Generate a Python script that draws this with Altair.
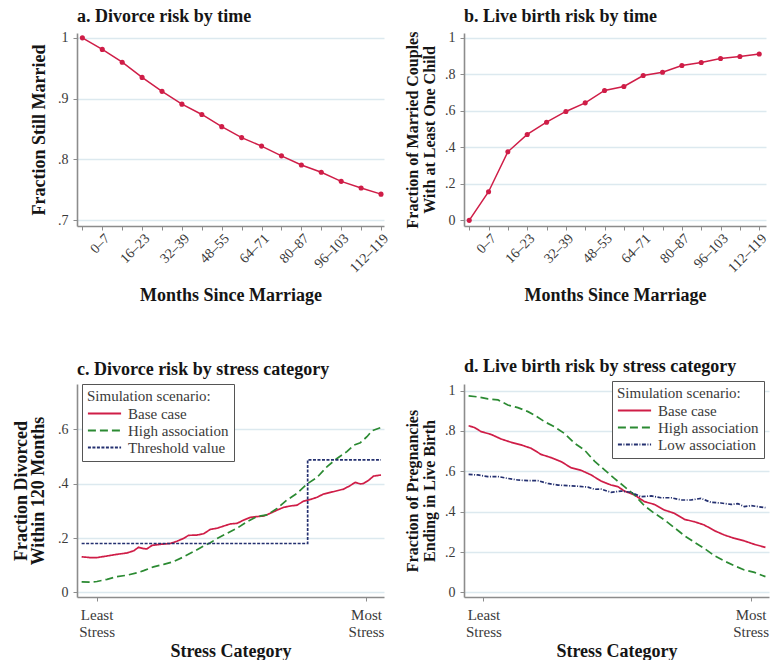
import altair as alt
import pandas as pd

FONT = "Liberation Serif"
RED = "#cf1d47"
GREEN = "#2b8a32"
NAVY = "#243070"
GRID = "#dce9ef"
AXIS_GRAY = "#8c8c8c"
TEXT = "#151515"
LABEL = "#3a3a3a"

# ---- Panels a and b: marriage start plus fifteen 8-month bins ----
period_index = list(range(16))
period_labels = ["0–7", "16–23", "32–39", "48–55", "64–71", "80–87", "96–103", "112–119"]
still_married = [1.000, 0.981, 0.960, 0.935, 0.912, 0.891, 0.874, 0.854,
                 0.836, 0.822, 0.806, 0.791, 0.779, 0.764, 0.753, 0.743]
with_child = [0.000, 0.157, 0.376, 0.471, 0.538, 0.597, 0.644, 0.712,
              0.734, 0.794, 0.812, 0.849, 0.865, 0.887, 0.898, 0.912]

# ---- Panel c: divorce within 120 months by stress percentile ----
c_base_x = [0, 2.9, 5.1, 8.5, 11.8, 15.1, 17.4, 19.0, 20.7, 21.8, 23.5, 26.3, 29.6, 31.8,
            34.1, 35.7, 38.5, 40.8, 43.0, 45.2, 47.4, 49.7, 51.9, 54.1, 56.3, 58.6, 60.8,
            63.0, 65.3, 67.5, 69.7, 71.9, 74.2, 76.4, 78.6, 80.8, 83.1, 85.3, 87.5, 89.7,
            91.4, 93.1, 94.2, 95.9, 97.5, 100]
c_base_y = [0.131, 0.128, 0.128, 0.134, 0.140, 0.145, 0.153, 0.166, 0.161, 0.160, 0.173,
            0.177, 0.180, 0.188, 0.199, 0.210, 0.211, 0.216, 0.232, 0.236, 0.244, 0.252,
            0.254, 0.266, 0.276, 0.279, 0.281, 0.291, 0.303, 0.313, 0.318, 0.321, 0.336,
            0.342, 0.350, 0.362, 0.368, 0.374, 0.380, 0.393, 0.405, 0.399, 0.401, 0.413,
            0.428, 0.432]
c_high_x = [0, 2.9, 5.1, 8.5, 11.8, 15.1, 18.5, 20.7, 24.0, 27.4, 30.7, 34.1, 37.4, 40.8,
            43.0, 45.2, 48.5, 51.9, 55.2, 58.6, 61.9, 65.3, 68.6, 71.9, 75.3, 78.6, 82.0,
            85.3, 88.6, 90.9, 93.1, 95.3, 97.0, 100]
c_high_y = [0.039, 0.038, 0.040, 0.048, 0.058, 0.063, 0.072, 0.080, 0.094, 0.103, 0.113,
            0.131, 0.150, 0.171, 0.183, 0.198, 0.217, 0.236, 0.260, 0.279, 0.285, 0.309,
            0.340, 0.364, 0.399, 0.423, 0.463, 0.493, 0.518, 0.542, 0.551, 0.573, 0.595,
            0.607]
c_threshold_x = [0, 75.5, 75.5, 100]
c_threshold_y = [0.180, 0.180, 0.488, 0.488]

# ---- Panel d: pregnancies ending in a live birth by stress percentile ----
d_base_x = [0, 2.0, 4.2, 7.6, 11.0, 14.3, 17.7, 21.1, 24.4, 27.8, 31.2, 34.5, 37.9, 41.3,
            44.6, 48.0, 50.3, 52.5, 55.9, 59.2, 62.6, 66.0, 69.3, 72.7, 76.1, 79.4, 82.8,
            86.2, 89.5, 92.9, 96.3, 100]
d_base_y = [0.826, 0.817, 0.797, 0.783, 0.760, 0.744, 0.731, 0.714, 0.684, 0.668, 0.648,
            0.618, 0.605, 0.582, 0.552, 0.532, 0.524, 0.502, 0.483, 0.450, 0.436, 0.408,
            0.392, 0.362, 0.350, 0.334, 0.306, 0.284, 0.268, 0.255, 0.238, 0.223]
d_high_x = [0, 3.1, 6.5, 9.9, 13.2, 16.6, 20.0, 22.2, 25.6, 28.9, 32.3, 35.7, 39.0, 42.4,
            45.8, 49.1, 52.5, 55.9, 59.2, 62.6, 66.0, 69.3, 72.7, 76.1, 79.4, 82.8, 86.2,
            89.5, 92.9, 96.3, 100]
d_high_y = [0.974, 0.969, 0.959, 0.954, 0.929, 0.916, 0.896, 0.879, 0.846, 0.821, 0.788,
            0.739, 0.706, 0.651, 0.607, 0.565, 0.524, 0.483, 0.430, 0.392, 0.359, 0.321,
            0.281, 0.248, 0.218, 0.182, 0.155, 0.132, 0.111, 0.099, 0.078]
d_low_x = [0, 3.1, 6.5, 9.9, 13.2, 16.6, 20.0, 23.3, 26.7, 30.1, 33.4, 36.8, 40.2, 42.4,
           44.6, 48.0, 51.4, 54.7, 58.1, 61.5, 64.8, 68.2, 71.6, 74.9, 78.3, 81.7, 85.0,
           88.4, 90.7, 92.9, 95.1, 100]
d_low_y = [0.585, 0.582, 0.574, 0.574, 0.565, 0.557, 0.554, 0.554, 0.540, 0.532, 0.529,
           0.526, 0.522, 0.511, 0.512, 0.496, 0.502, 0.496, 0.474, 0.478, 0.469, 0.469,
           0.458, 0.458, 0.466, 0.446, 0.443, 0.436, 0.440, 0.425, 0.430, 0.420]

stress_ticks = [5, 95]
stress_ends = [["Least", "Stress"], ["Most", "Stress"]]
c_series = ["Base case", "High association", "Threshold value"]
d_series = ["Base case", "High association", "Low association"]

TOP_W, TOP_H = 307, 193
B_W = 302
BOT_H = 213
C_W, D_W = 307, 305

period_expr = ("datum.value % 2 == 1 ? ["
               + ",".join(f"'{s}'" for s in period_labels)
               + "][(datum.value - 1) / 2] : ''")
frac_expr = ("datum.value == 0 ? '0' : datum.value == 1 ? '1' : "
             "'.' + round(datum.value * 10)")
stress_expr = ("datum.value < 50 ? ['" + "','".join(stress_ends[0]) + "'] : ['"
               + "','".join(stress_ends[1]) + "']")


def y_axis(values, title, title_x, height, size, line_h):
    return alt.Axis(values=values, labelExpr=frac_expr, title=title, grid=True,
                    titleX=title_x, titleY=height / 2, titleAngle=270,
                    titleAlign="center", titleBaseline="alphabetic",
                    titleFontSize=size, titleLineHeight=line_h, labelFlush=False)


def period_axis(width, title_y):
    return alt.Axis(values=period_index, labelExpr=period_expr, labelAngle=315,
                    labelAlign="right", labelBaseline="top", labelPadding=1,
                    labelOverlap=False, labelFlush=False, grid=False,
                    title="Months Since Marriage", titleX=width / 2, titleY=title_y,
                    titleAlign="center", titleBaseline="alphabetic", titleFontSize=18)


def stress_axis(width, title_y):
    return alt.Axis(values=stress_ticks, labelExpr=stress_expr, labelFontSize=15,
                    labelLineHeight=17, labelAlign="center", labelBaseline="top",
                    labelPadding=6, labelFlush=False, labelOverlap=False, grid=False,
                    title="Stress Category", titleX=width / 2, titleY=title_y,
                    titleAlign="center", titleBaseline="alphabetic", titleFontSize=18)


def panel_title(text):
    return alt.TitleParams(text, anchor="start", frame="group", baseline="alphabetic",
                           offset=-9)


def time_panel(values, title, y_title, y_domain, y_values, width, x_max, title_x, size,
               line_h):
    df = pd.DataFrame({"period": period_index, "value": values})
    base = alt.Chart(df).encode(
        x=alt.X("period:Q", scale=alt.Scale(domain=[-0.27, x_max], nice=False, zero=False),
                axis=period_axis(width, 74.5)),
        y=alt.Y("value:Q", scale=alt.Scale(domain=y_domain, nice=False, zero=False),
                axis=y_axis(y_values, y_title, title_x, TOP_H, size, line_h)),
    )
    line = base.mark_line(color=RED, strokeWidth=1.5)
    pts = base.mark_point(filled=True, color=RED, size=26, opacity=1)
    return alt.layer(line, pts).properties(width=width, height=TOP_H,
                                           title=panel_title(title))


def stress_panel(series_data, names, colors, dashes, title, y_title, y_domain, y_values,
                 width, x_max, title_x, size, line_h, legend_x, legend_y):
    frames = []
    for name, (xs, ys) in zip(names, series_data):
        frames.append(pd.DataFrame({"stress": xs, "value": ys, "series": name,
                                    "step": range(len(xs))}))
    df = pd.concat(frames, ignore_index=True)
    legend = alt.Legend(orient="none", legendX=legend_x, legendY=legend_y,
                        title="Simulation scenario:")
    return alt.Chart(df).mark_line(strokeWidth=1.7).encode(
        x=alt.X("stress:Q", scale=alt.Scale(domain=[-1.55, x_max], nice=False, zero=False),
                axis=stress_axis(width, 59)),
        y=alt.Y("value:Q", scale=alt.Scale(domain=y_domain, nice=False, zero=False),
                axis=y_axis(y_values, y_title, title_x, BOT_H, size, line_h)),
        color=alt.Color("series:N", scale=alt.Scale(domain=names, range=colors),
                        legend=legend),
        strokeDash=alt.StrokeDash("series:N", scale=alt.Scale(domain=names, range=dashes),
                                  legend=legend),
        order="step:Q",
    ).properties(width=width, height=BOT_H, title=panel_title(title))


panel_a = time_panel(still_married, "a. Divorce risk by time", "Fraction Still Married",
                     [0.6906, 1.008], [0.7, 0.8, 0.9, 1.0], TOP_W, 15.15, -33, 18, 18)
panel_b = time_panel(with_child, "b. Live birth risk by time",
                     ["Fraction of Married Couples", "With at Least One Child"],
                     [-0.031, 1.027], [0, 0.2, 0.4, 0.6, 0.8, 1.0], B_W, 15.35, -47, 16, 17)
panel_c = stress_panel([(c_base_x, c_base_y), (c_high_x, c_high_y),
                        (c_threshold_x, c_threshold_y)],
                       c_series, [RED, GREEN, NAVY], [[1, 0], [8, 4], [3, 1.5]],
                       "c. Divorce risk by stress category",
                       ["Fraction Divorced", "Within 120 Months"],
                       [-0.017, 0.767], [0, 0.2, 0.4, 0.6], C_W, 101.0, -51, 18, 17, 5, 0)
panel_d = stress_panel([(d_base_x, d_base_y), (d_high_x, d_high_y),
                        (d_low_x, d_low_y)],
                       d_series, [RED, GREEN, NAVY], [[1, 0], [8, 4], [4, 1.5, 1, 1.5]],
                       "d. Live birth risk by stress category",
                       ["Fraction of Pregnancies", "Ending in Live Birth"],
                       [-0.023, 1.033], [0, 0.2, 0.4, 0.6, 0.8, 1.0], D_W, 101.2, -47, 16,
                       17, 148, -3)

chart = alt.concat(panel_a, panel_b, panel_c, panel_d, columns=2,
                   spacing={"row": 158, "column": 80}, bounds="flush").resolve_scale(
    color="independent", strokeDash="independent",
).resolve_legend(
    color="independent", strokeDash="independent",
).properties(
    padding={"left": 12, "top": 7, "right": 0, "bottom": 0},
    background="white",
).configure_view(stroke=None).configure_axis(
    labelFont=FONT, titleFont=FONT, labelFontSize=14, labelColor=LABEL,
    titleColor=TEXT, titleFontWeight="bold", domainColor=AXIS_GRAY, domainWidth=1.6,
    tickColor=AXIS_GRAY, tickSize=4, tickWidth=1, gridColor=GRID, gridWidth=1.3,
    labelPadding=5,
).configure_title(
    font=FONT, fontSize=18, fontWeight="bold", color=TEXT, anchor="start",
).configure_legend(
    titleFont=FONT, labelFont=FONT, titleFontSize=15, labelFontSize=15,
    titleFontWeight="normal", titleColor=LABEL, labelColor=LABEL,
    fillColor="white", strokeColor="#555555", padding=5, cornerRadius=0,
    symbolType="stroke", symbolSize=1100, symbolStrokeWidth=1.8, labelOffset=6,
    clipHeight=17, rowPadding=0, titlePadding=1, labelLimit=300,
)

chart.save("out.html", embed_options={"renderer": "svg", "actions": False})
